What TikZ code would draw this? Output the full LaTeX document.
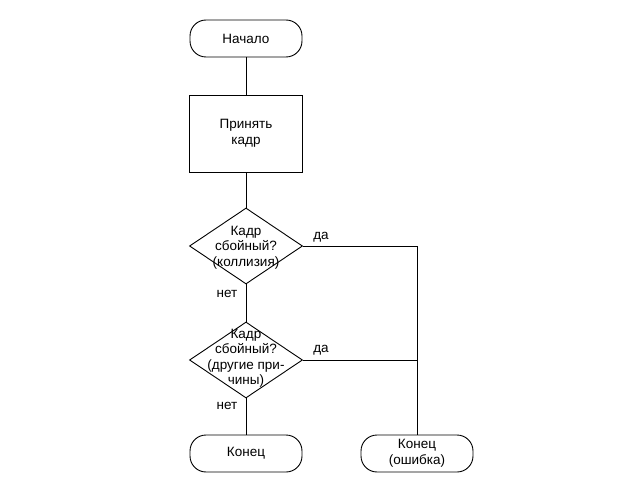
\documentclass[tikz,border=0pt]{standalone}
\usepackage{fontspec}
\setmainfont{Liberation Sans}
\usetikzlibrary{shapes.geometric}
\begin{document}
\begin{tikzpicture}[x=1pt,y=-1pt,
  every node/.style={font=\fontsize{13.5}{15.5}\selectfont},
  term/.style={draw,line width=0.9pt,rectangle,rounded corners=16pt,minimum width=112pt,minimum height=37pt,inner sep=0pt,align=center},
  proc/.style={draw,line width=0.9pt,rectangle,minimum width=113pt,minimum height=77pt,inner sep=0pt,align=center},
  dia/.style={draw,line width=0.9pt,diamond,minimum width=113pt,minimum height=76pt,inner sep=0pt},
  txt/.style={align=center,inner sep=0pt},
  conn/.style={line width=0.9pt}]
\useasboundingbox (0,0) rectangle (643,492);
\node[term] (start) at (246,38.5) {Начало};
\node[proc] (recv) at (246,133.5) {Принять\\кадр};
\node[dia] (d1) at (246,246) {};
\node[txt] (t1) at (246,247.5) {Кадр\\сбойный?\\(коллизия)};
\node[dia] (d2) at (246,360) {};
\node[txt] (t2) at (246,358.5) {Кадр\\сбойный?\\(другие при-\\чины)};
\node[term] (end1) at (246,453.5) {Конец};
\node[term] (end2) at (417,453.5) {Конец\\(ошибка)};
\coordinate (j1) at (d1.east -| end2.north);
\coordinate (j2) at (d2.east -| end2.north);
\draw[conn] (start) -- (recv);
\draw[conn] (recv) -- (d1);
\draw[conn] (d1) -- (d2);
\draw[conn] (d2) -- (end1);
\draw[conn] (d1.east) -- (j1) -- (end2.north);
\draw[conn] (d2.east) -- (j2);
\node[txt] (da1) at (321,237) {да};
\node[txt] (da2) at (321,350) {да};
\node[txt] (net1) at (227,293.5) {нет};
\node[txt] (net2) at (227,406) {нет};
\end{tikzpicture}
\end{document}
